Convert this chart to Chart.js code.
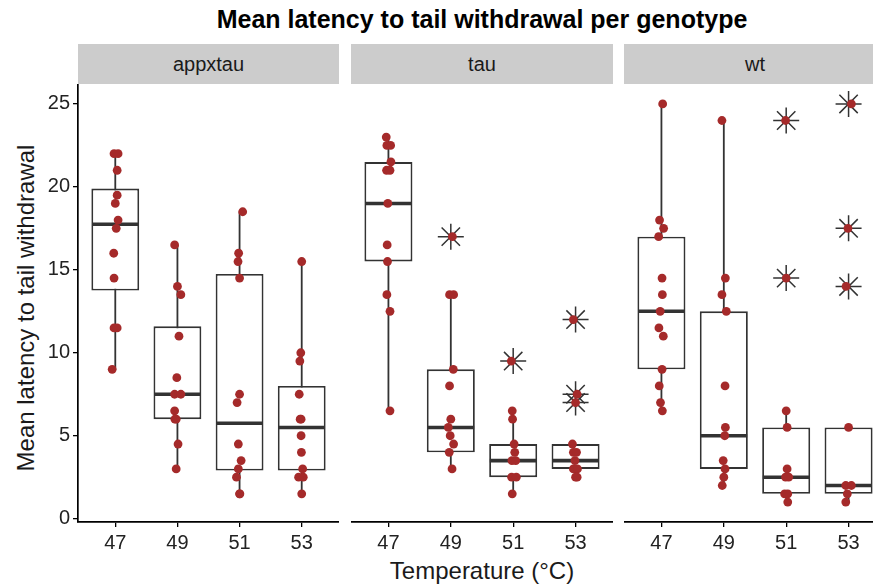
<!DOCTYPE html>
<html>
<head>
<meta charset="utf-8">
<script src="https://cdn.jsdelivr.net/npm/chart.js@4/dist/chart.umd.min.js"></script>
<style>
  html, body { margin: 0; padding: 0; background: #fff; }
  body { width: 873px; height: 588px; overflow: hidden; position: relative;
         font-family: "Liberation Sans", Arial, Helvetica, sans-serif; color: #1a1a1a; }
  canvas { position: absolute; }
  .title { position: absolute; left: 0; width: 964px; top: 5px; text-align: center;
           font-weight: bold; font-size: 25px; color: #000; }
  .strip { position: absolute; top: 44px; height: 40px; line-height: 40px; background: #cccccc;
           text-align: center; font-size: 20px; color: #1a1a1a; }
  .xtitle { position: absolute; left: 0; width: 964px; top: 557px; text-align: center; font-size: 24px; }
  .ytitle { position: absolute; left: 26px; top: 308px; white-space: nowrap; font-size: 24px;
            transform: translate(-50%, -50%) rotate(-90deg); }
</style>
</head>
<body>
<div class="title">Mean latency to tail withdrawal per genotype</div>
<div class="strip" style="left:78px;width:261px;">appxtau</div>
<div class="strip" style="left:351px;width:262px;">tau</div>
<div class="strip" style="left:624px;width:262px;">wt</div>
<div class="ytitle">Mean latency to tail withdrawal</div>
<div class="xtitle">Temperature (°C)</div>

<canvas id="c1" width="339" height="468" style="left:0px;top:84px;"></canvas>
<canvas id="c2" width="262" height="468" style="left:351px;top:84px;"></canvas>
<canvas id="c3" width="262" height="468" style="left:624px;top:84px;"></canvas>

<script>
// Temperatures (x categories) and axis ticks
const temps = [47, 49, 51, 53];
const yTicks = [0, 5, 10, 15, 20, 25];

// Box stats per temperature: [lower whisker, q1, median, q3, upper whisker]
const appxtauBox = [[9, 13.75, 17.75, 19.9, 22], [3, 6, 7.5, 11.6, 16.5], [1.5, 2.9, 5.75, 14.75, 18.5], [1.5, 2.9, 5.5, 8, 15.5]];
const tauBox = [[6.5, 15.5, 19, 21.5, 23], [3, 4, 5.5, 9, 13.5], [1.5, 2.5, 3.5, 4.5, 6.5], [2.5, 3, 3.5, 4.5, 4.5]];
const wtBox = [[6.5, 9, 12.5, 17, 25], [2, 3, 5, 12.5, 24], [1, 1.5, 2.5, 5.5, 6.5], [1, 1.5, 2, 5.5, 5.5]];

// Outliers (drawn as stars)
const appxtauOut = [[], [], [], []];
const tauOut = [[], [17], [9.5], [12, 7.5, 7]];
const wtOut = [[], [], [24, 14.5], [25, 17.5, 14]];

// Individual animals (jittered points)
const appxtauPts = [
  [22, 22, 21, 19.5, 19, 18, 17.5, 16, 14.5, 11.5, 11.5, 9],
  [16.5, 14, 13.5, 11, 8.5, 7.5, 7.5, 6.5, 6, 6, 4.5, 3],
  [18.5, 16, 15.5, 14.5, 7.5, 7, 4.5, 3.5, 3, 2.5, 1.5, 1.5],
  [15.5, 10, 9.5, 7.5, 6, 6, 5, 4, 3, 2.5, 2.5, 1.5]
];
const tauPts = [
  [23, 22.5, 22.5, 21.5, 21, 21, 19, 16.5, 15.5, 13.5, 12.5, 6.5],
  [17, 13.5, 13.5, 9, 8, 6, 5.5, 5, 4.5, 4, 3],
  [9.5, 6.5, 6, 4.5, 4, 3.5, 3.5, 2.5, 2.5, 1.5],
  [12, 7.5, 7, 4.5, 4, 4, 3.5, 3, 3, 2.5, 2.5]
];
const wtPts = [
  [25, 18, 17.5, 17, 14.5, 13.5, 12.5, 11.5, 11, 9, 8, 7, 6.5],
  [24, 14.5, 13.5, 12.5, 8, 5.5, 5, 3.5, 3, 2.5, 2],
  [24, 14.5, 6.5, 5.5, 3, 2.5, 2.5, 1.5, 1.5, 1],
  [25, 17.5, 14, 5.5, 2, 2, 1.5, 1]
];

// Horizontal jitter of each point (x units), as seen in the picture
const appxtauJit = [
  [-0.04, 0.09, 0.06, 0.06, 0, 0.09, 0.03, -0.05, -0.04, -0.04, 0.06, -0.1],
  [-0.09, 0, 0.11, 0.05, -0.02, -0.09, 0.11, -0.09, -0.04, -0.08, 0.02, -0.04],
  [0.1, -0.03, -0.05, 0, 0, -0.08, -0.04, 0.05, -0.04, -0.1, 0, 0.01],
  [0, -0.03, -0.06, -0.08, -0.05, -0.02, -0.02, -0.01, 0.03, -0.1, 0.05, 0]
];
const tauJit = [
  [-0.07, -0.05, 0.07, 0.08, -0.06, 0.05, -0.02, -0.04, -0.03, -0.05, 0.05, 0.05],
  [0.05, -0.04, 0.09, 0.08, -0.04, 0, -0.08, -0.02, 0.09, -0.05, 0.04],
  [-0.06, -0.03, -0.02, 0.03, 0.05, -0.04, 0.08, -0.05, 0.1, -0.03],
  [-0.07, 0.05, 0, -0.1, -0.07, 0.03, -0.02, -0.07, 0.06, 0, 0.05]
];
const wtJit = [
  [0.04, -0.06, 0.07, -0.09, 0.02, 0.03, -0.04, -0.08, 0.06, 0.02, -0.07, -0.03, 0.03],
  [-0.06, 0.05, -0.06, 0.08, 0.04, 0.05, 0.03, -0.02, 0.04, 0, -0.05],
  [-0.02, 0, 0, 0.03, 0.03, -0.02, 0.08, -0.05, 0.05, 0.05],
  [0.09, -0.02, -0.08, 0, -0.09, 0.09, -0.04, -0.09]
];

const POINT_COL = '#A52A2A';
const LINE_COL = '#333333';
const HALF_BOX = 0.75; // half of box width, in x units (box = 0.75 of category spacing)
const FONT = '"Liberation Sans", Arial, sans-serif';

function buildDatasets(box, out, pts, jit) {
  const whiskers = [], medians = [], stars = [], dots = [];
  temps.forEach((t, i) => {
    const b = box[i];
    whiskers.push({ x: t, y: b[0] }, { x: t, y: b[4] }, { x: t, y: null });
    medians.push({ x: t - HALF_BOX, y: b[2] }, { x: t + HALF_BOX, y: b[2] }, { x: t, y: null });
    out[i].forEach(v => stars.push({ x: t, y: v }));
    pts[i].forEach((v, k) => dots.push({ x: t + jit[i][k], y: v }));
  });
  return [
    { type: 'scatter', data: dots, order: 0, pointStyle: 'circle', pointRadius: 4.4,
      backgroundColor: POINT_COL, borderWidth: 0, clip: false },
    { type: 'scatter', data: stars, order: 1, pointStyle: 'star', pointRadius: 13,
      borderColor: LINE_COL, borderWidth: 1.5, backgroundColor: LINE_COL, clip: false },
    { type: 'line', data: medians, order: 2, borderColor: LINE_COL, borderWidth: 3.6,
      pointRadius: 0, spanGaps: false, borderCapStyle: 'butt' },
    { type: 'bar', data: temps.map((t, i) => ({ x: t, y: [box[i][1], box[i][3]] })), order: 3,
      backgroundColor: '#ffffff', borderColor: LINE_COL, borderWidth: 1.9, borderSkipped: false,
      barPercentage: 0.77, categoryPercentage: 1 },
    { type: 'line', data: whiskers, order: 4, borderColor: LINE_COL, borderWidth: 1.8,
      pointRadius: 0, spanGaps: false }
  ];
}

function makeChart(id, box, out, pts, jit, showY) {
  return new Chart(document.getElementById(id), {
    type: 'scatter',
    data: { datasets: buildDatasets(box, out, pts, jit) },
    options: {
      responsive: false,
      animation: false,
      layout: { padding: 0, autoPadding: false },
      plugins: { legend: { display: false }, tooltip: { enabled: false }, title: { display: false } },
      scales: {
        x: {
          type: 'linear', position: 'bottom', min: 45.8, max: 54.2, offset: false,
          afterBuildTicks: s => { s.ticks = temps.map(v => ({ value: v })); },
          afterFit: s => { s.height = 30; s.paddingLeft = 0; s.paddingRight = 0; },
          grid: { offset: false, drawOnChartArea: false, drawTicks: true, tickLength: 5, color: '#000', lineWidth: 1.3 },
          border: { display: true, color: '#000', width: 1.7 },
          ticks: { font: { size: 20, family: FONT }, color: '#222', padding: 4, maxRotation: 0 }
        },
        y: {
          type: 'linear', position: 'left', min: -0.2, max: 26.2, display: showY,
          afterBuildTicks: s => { s.ticks = yTicks.map(v => ({ value: v })); },
          afterFit: s => { s.width = showY ? 78 : 0; s.paddingTop = 0; s.paddingBottom = 0; },
          grid: { offset: false, drawOnChartArea: false, drawTicks: true, tickLength: 5, color: '#000', lineWidth: 1.3 },
          border: { display: true, color: '#000', width: 1.7 },
          ticks: { font: { size: 20, family: FONT }, color: '#222', padding: 3 }
        }
      }
    }
  });
}

makeChart('c1', appxtauBox, appxtauOut, appxtauPts, appxtauJit, true);
makeChart('c2', tauBox, tauOut, tauPts, tauJit, false);
makeChart('c3', wtBox, wtOut, wtPts, wtJit, false);
</script>
</body>
</html>
